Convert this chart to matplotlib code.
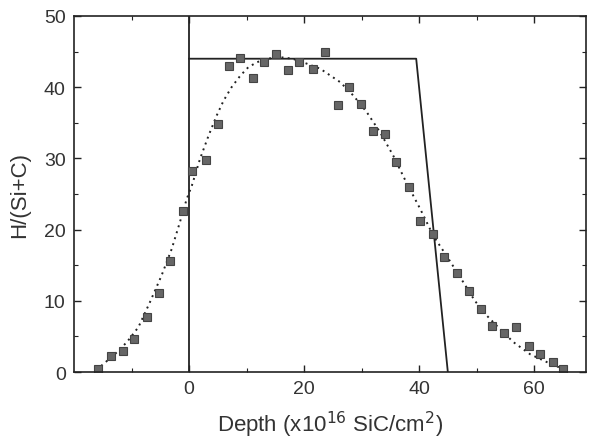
import matplotlib
matplotlib.use("Agg")
import matplotlib.pyplot as plt
from matplotlib.ticker import MultipleLocator, FixedLocator

plt.rcParams['font.family'] = ['Liberation Sans', 'DejaVu Sans']

# measured data (squares)
depth = [-15.8, -13.6, -11.5, -9.6, -7.3, -5.2, -3.3, -1.0, 0.6, 3.0, 5.0, 7.0, 8.9,
         11.2, 13.0, 15.1, 17.2, 19.2, 21.6, 23.7, 25.9, 27.8, 29.9, 32.0, 34.1, 36.0,
         38.3, 40.2, 42.4, 44.3, 46.6, 48.7, 50.8, 52.7, 54.8, 56.9, 59.1, 61.0, 63.3, 65.0]
ratio = [0.4, 2.2, 2.9, 4.6, 7.7, 11.1, 15.6, 22.6, 28.3, 29.8, 34.8, 43.0, 44.1,
         41.3, 43.5, 44.7, 42.4, 43.5, 42.6, 44.9, 37.5, 40.0, 37.6, 33.8, 33.4, 29.5,
         26.0, 21.2, 19.4, 16.2, 13.9, 11.4, 8.8, 6.4, 5.5, 6.3, 3.6, 2.5, 1.4, 0.4]

# fitted profile (dotted)
fit_x = [-16.0, -15.5, -12.9, -10.8, -8.8, -6.8, -4.8, -3.0, -1.6, -0.4, 0.5, 1.9, 3.4,
         4.8, 6.0, 7.4, 8.9, 10.3, 11.8, 13.5, 16.0, 18.0, 20.5, 22.8, 26.3, 28.6, 30.9,
         33.2, 35.5, 37.8, 40.2, 42.5, 44.8, 47.7, 49.7, 51.8, 54.1, 56.4, 59.3, 62.2, 65.1]
fit_y = [0.2, 0.7, 2.5, 4.2, 6.3, 9.8, 13.5, 17.3, 21.0, 24.3, 26.2, 29.9, 33.2,
         36.0, 38.1, 40.0, 41.6, 42.8, 43.5, 44.0, 44.2, 44.0, 43.3, 42.6, 40.7, 38.8, 36.5,
         33.7, 30.4, 26.6, 22.9, 19.1, 16.3, 12.6, 10.0, 7.9, 6.0, 4.2, 2.5, 1.4, 0.4]

# implantation box profile (solid)
box_x = [0, 39.5, 45.0]
box_y = [44, 44, 0]
surface_x = [0, 0]
surface_y = [0, 50]

x_major = [0, 20, 40, 60]
x_minor = [-10, 10, 30, 50]

fig = plt.figure(figsize=(5.9, 4.39), dpi=100)
ax = fig.add_axes([0.1254, 0.1503, 0.8676, 0.811])

ax.plot(surface_x, surface_y, color='#222222', lw=1.3)
ax.plot(box_x, box_y, color='#222222', lw=1.3)
ax.plot(fit_x, fit_y, linestyle=(0, (1, 2.2)), color='#222222', lw=1.4)
ax.plot(depth, ratio, linestyle='none', marker='s', ms=6,
        mfc='#666666', mec='#444444', mew=0.8)

ax.set_xlim(-20, 69)
ax.set_ylim(0, 50)
ax.xaxis.set_major_locator(FixedLocator(x_major))
ax.xaxis.set_minor_locator(FixedLocator(x_minor))
ax.yaxis.set_major_locator(MultipleLocator(10))
ax.yaxis.set_minor_locator(MultipleLocator(5))
ax.tick_params(which='both', direction='in', top=True, right=True,
               labelsize=14, colors='#222222', labelcolor='#333333')
ax.tick_params(which='major', length=5, width=1.0, pad=6)
ax.tick_params(which='minor', length=3, width=0.8)
for s in ax.spines.values():
    s.set_color('#222222')
    s.set_linewidth(1.2)

ax.set_xlabel('Depth (x10$^{16}$ SiC/cm$^{2}$)', fontsize=16, color='#333333', labelpad=8)
ax.set_ylabel('H/(Si+C)', fontsize=16, color='#333333', labelpad=10)

fig.savefig('out.png', dpi=100)
